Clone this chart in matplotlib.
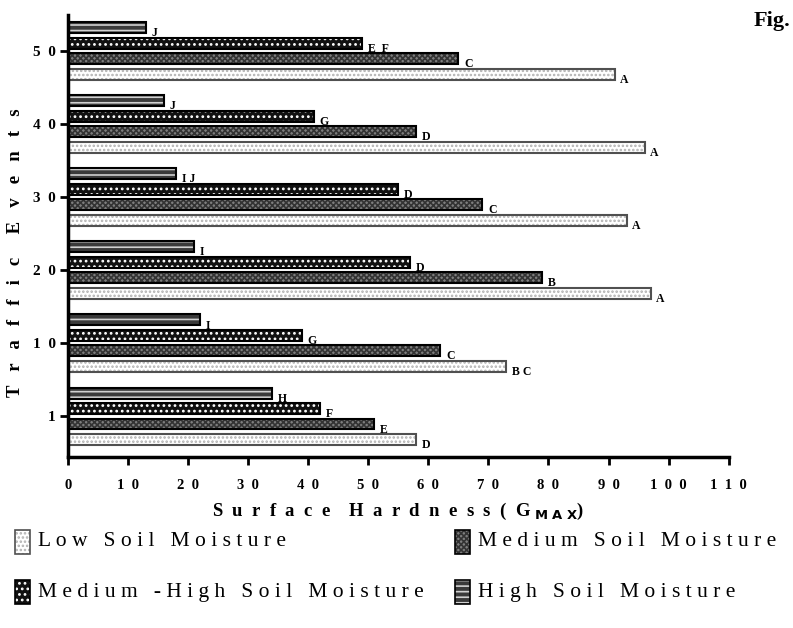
import numpy as np
import matplotlib
matplotlib.use("Agg")
import matplotlib.pyplot as plt
from matplotlib.patches import Rectangle

plt.rcParams['font.family'] = ['Liberation Serif', 'DejaVu Serif']
plt.rcParams['hatch.linewidth'] = 1.2

EN = '\u2002'


def spaced(s, gap=' '):
    # spread letters apart, words get an extra gap
    return (gap + EN).join(gap.join(w) for w in s.split(' '))


# traffic events, bottom group first
events = ['1', '10', '20', '30', '40', '50']
low = [58, 73, 97, 93, 96, 91]
medium = [51, 62, 79, 69, 58, 65]
med_high = [42, 39, 57, 55, 41, 49]
high = [34, 22, 21, 18, 16, 13]

low_letters = ['D', 'B C', 'A', 'A', 'A', 'A']
medium_letters = ['E', 'C', 'B', 'C', 'D', 'C']
med_high_letters = ['F', 'G', 'D', 'D', 'G', 'E  F']
high_letters = ['H', 'I', 'I', 'I J', 'J', 'J']

x_ticks = [0, 10, 20, 30, 40, 50, 60, 70, 80, 90, 100, 110]

# (values, letters, offset, face, hatch, hatch colour, edge, legend text)
series = {
    'high': (high, high_letters, 0.318, '#3a3a3a', '---', '#d0d0d0', 'black', 'High Soil Moisture'),
    'med_high': (med_high, med_high_letters, 0.106, '#111111', '...', 'white', 'black', 'Medium -High Soil Moisture'),
    'medium': (medium, medium_letters, -0.106, '#7e7e7e', 'xxxxxx', '#333333', 'black', 'Medium Soil Moisture'),
    'low': (low, low_letters, -0.318, 'white', '....', '#b0b0b0', '#505050', 'Low Soil Moisture'),
}

fig = plt.figure(figsize=(7.93, 6.28), dpi=100)
ax = fig.add_axes([0.0858, 0.272, 0.833, 0.704])

pos = np.arange(len(events))
bh = 0.15


def draw_bars(axis, y, w, face, hatch, hcol, edge):
    axis.barh(y, w, height=bh, color=face, hatch=hatch, edgecolor=hcol, linewidth=0)
    axis.barh(y, w, height=bh, fill=False, edgecolor=edge, linewidth=1.5)


for vals, letters, off, face, hatch, hcol, edge, name in series.values():
    draw_bars(ax, pos + off, vals, face, hatch, hcol, edge)
    for yy, v, s in zip(pos + off, vals, letters):
        ax.annotate(s, (v, yy), xytext=(4, -4), textcoords='offset points',
                    ha='left', va='center', fontsize=8.5, fontweight='bold')

ax.set_xlim(0, 110)
ax.set_ylim(-0.56, 5.49)
ax.set_xticks(x_ticks)
ax.set_xticklabels([EN.join(str(t)) for t in x_ticks], fontsize=10.5, fontweight='bold')
ax.set_yticks(pos)
ax.set_yticklabels([EN.join(e) for e in events], fontsize=11, fontweight='bold')
ax.tick_params(axis='x', length=6, width=2, pad=10)
ax.tick_params(axis='y', length=6, width=2, pad=3)
for side in ['top', 'right']:
    ax.spines[side].set_visible(False)
for side in ['left', 'bottom']:
    ax.spines[side].set_linewidth(2.5)

ax.set_xlabel(spaced('Surface Hardness(G', EN) + ' $_{\\mathbf{M\\ A\\ X}}$)',
              fontsize=13.5, fontweight='bold', labelpad=6)
ax.set_ylabel(spaced('Traffic Events', ' ' + EN), fontsize=13.5, fontweight='bold')
ax.yaxis.set_label_coords(-0.066, 0.462)

fig.text(0.997, 0.982, 'Fig.', ha='right', va='top', fontsize=16, fontweight='bold')

# legend drawn below the axes
legend_spots = [('low', 15, 542), ('medium', 455, 542), ('med_high', 15, 592), ('high', 455, 592)]
for key, px, py in legend_spots:
    vals, letters, off, face, hatch, hcol, edge, name = series[key]
    x0 = px / 793
    y0 = 1 - (py + 12) / 628
    w = 15 / 793
    h = 24 / 628
    fig.add_artist(Rectangle((x0, y0), w, h, transform=fig.transFigure, facecolor=face,
                             hatch=hatch, edgecolor=hcol, linewidth=0))
    fig.add_artist(Rectangle((x0, y0), w, h, transform=fig.transFigure, fill=False,
                             edgecolor=edge, linewidth=1.2))
    fig.text(x0 + 23 / 793, 1 - py / 628, spaced(name), fontsize=15.5, ha='left', va='center')

fig.savefig('out.png', dpi=100)
